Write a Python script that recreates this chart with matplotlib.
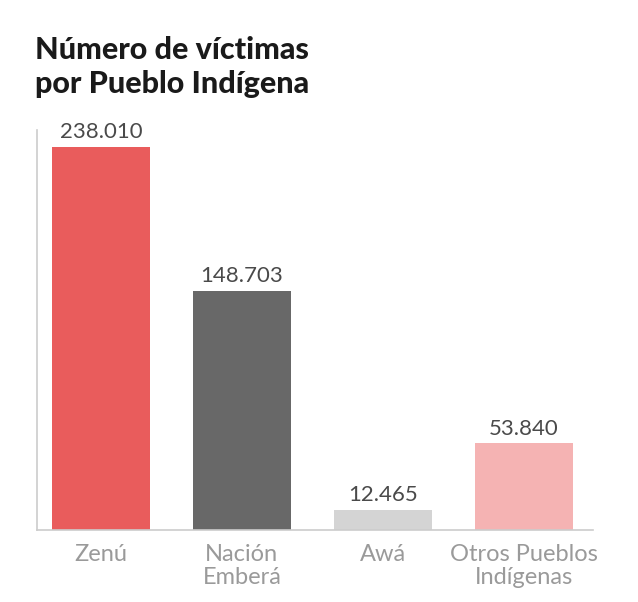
import matplotlib.pyplot as plt

categorias = ['Zenú', 'Nación\nEmberá', 'Awá', 'Otros Pueblos\nIndígenas']
victimas = [238010, 148703, 12465, 53840]
etiquetas = ['238.010', '148.703', '12.465', '53.840']
colores = ['#E95C5C', '#686868', '#D4D4D4', '#F5B3B3']

plt.rcParams['font.family'] = ['Lato', 'DejaVu Sans']

fig = plt.figure(figsize=(6.38, 6.02), dpi=100)
ax = fig.add_axes([0.058, 0.1196, 0.871, 0.664])

x = range(len(categorias))
bars = ax.bar(x, victimas, width=0.695, color=colores)

for b, t in zip(bars, etiquetas):
    ax.text(b.get_x() + b.get_width() / 2, b.get_height() + 3000, t,
            ha='center', va='bottom', fontsize=16, color='#4a4a4a')

ax.set_xlim(-0.454, 3.49)
ax.set_ylim(0, 248600)
ax.set_xticks(list(x))
ax.set_xticklabels(categorias, fontsize=17, color='#9a9a9a', linespacing=1.15)
ax.tick_params(axis='x', length=0, pad=10)
ax.set_yticks([])

for s in ['top', 'right']:
    ax.spines[s].set_visible(False)
for s in ['left', 'bottom']:
    ax.spines[s].set_color('#cccccc')
    ax.spines[s].set_linewidth(1.2)

fig.text(0.055, 0.837, 'Número de víctimas\npor Pueblo Indígena', fontsize=22,
         fontweight='black', color='#1a1a1a', ha='left', va='bottom', linespacing=1.25)

fig.savefig('out.png', dpi=100)
